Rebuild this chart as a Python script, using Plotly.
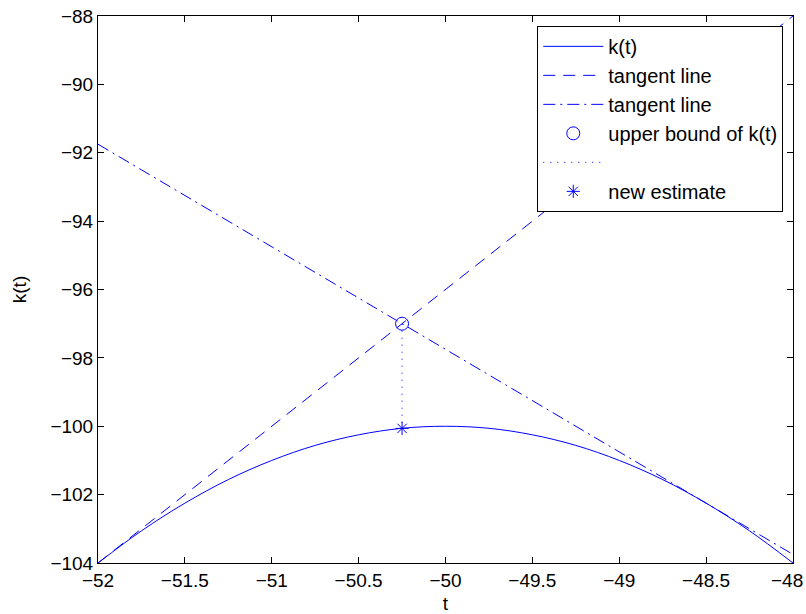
import plotly.graph_objects as go

# k(t) curve
t_curve = [-52.0, -51.75, -51.5, -51.25, -51.0, -50.75, -50.5, -50.25, -50.0,
           -49.75, -49.5, -49.25, -49.0, -48.75, -48.5, -48.25, -48.0]
k_curve = [-104.0, -103.06, -102.25, -101.56, -101.0, -100.56, -100.25, -100.06, -100.0,
           -100.06, -100.25, -100.56, -101.0, -101.56, -102.25, -103.06, -104.0]

# tangent lines (endpoints at plot edges)
t_tan1 = [-52.0, -48.0]
k_tan1 = [-104.0, -88.0]
t_tan2 = [-52.0, -48.0]
k_tan2 = [-91.75, -103.75]

# upper bound point and new estimate
t_upper = [-50.25]
k_upper = [-97.0]
t_vert = [-50.25, -50.25]
k_vert = [-97.0, -100.0625]
t_est = [-50.25]
k_est = [-100.0625]

# tick labels (the last x label is drawn separately, nudged left so it fits)
x_ticks = [-52, -51.5, -51, -50.5, -50, -49.5, -49, -48.5, -48]
x_tick_text = ["\u221252", "\u221251.5", "\u221251", "\u221250.5", "\u221250",
               "\u221249.5", "\u221249", "\u221248.5", "\u221248"]
y_ticks = [-104, -102, -100, -98, -96, -94, -92, -90, -88]
y_tick_text = ["\u2212104", "\u2212102", "\u2212100", "\u221298", "\u221296",
               "\u221294", "\u221292", "\u221290", "\u221288"]

blue = "#0000ff"
font = "Liberation Sans, Arial, Helvetica, sans-serif"

fig = go.Figure()
fig.add_trace(go.Scatter(x=t_curve, y=k_curve, mode="lines", name="k(t)",
                         line=dict(color=blue, width=1, shape="spline")))
fig.add_trace(go.Scatter(x=t_tan1, y=k_tan1, mode="lines", name="tangent line",
                         line=dict(color=blue, width=1, dash="12px,8px")))
fig.add_trace(go.Scatter(x=t_tan2, y=k_tan2, mode="lines", name="tangent line",
                         line=dict(color=blue, width=1, dash="12px,5px,2px,5px")))
fig.add_trace(go.Scatter(x=t_upper, y=k_upper, mode="markers", name="upper bound of k(t)",
                         marker=dict(symbol="circle-open", size=13, color=blue,
                                     line=dict(width=1, color=blue))))
fig.add_trace(go.Scatter(x=t_vert, y=k_vert, mode="lines", name=" ",
                         line=dict(color=blue, width=1, dash="1px,6px")))
fig.add_trace(go.Scatter(x=t_est, y=k_est, mode="markers", name="new estimate",
                         marker=dict(symbol="asterisk-open", size=11, color=blue,
                                     line=dict(width=1, color=blue))))

axis_common = dict(showgrid=False, zeroline=False, showline=True, linecolor="black",
                   linewidth=1, mirror="ticks", ticks="inside", ticklen=6,
                   tickcolor="black", automargin=False,
                   tickfont=dict(family=font, size=19, color="black"))

shown_x_text = x_tick_text[:-1] + [""]

fig.update_layout(
    width=806, height=614,
    margin=dict(l=98, r=13, t=16, b=51),
    paper_bgcolor="white", plot_bgcolor="white",
    font=dict(family=font, size=19, color="black"),
    hovermode=False,
    xaxis=dict(range=[-52, -48], tickmode="array", tickvals=x_ticks, ticktext=shown_x_text,
               title=dict(text="t", font=dict(size=19), standoff=12), **axis_common),
    yaxis=dict(range=[-104, -88], tickmode="array", tickvals=y_ticks, ticktext=y_tick_text,
               title=dict(text="k(t)", font=dict(size=19), standoff=18), **axis_common),
    legend=dict(x=0.986, y=0.982, xanchor="right", yanchor="top",
                bgcolor="white", bordercolor="black", borderwidth=1,
                font=dict(family=font, size=20, color="black"),
                tracegroupgap=0, itemwidth=60),
    showlegend=True,
)

# last x tick label, kept inside the page like the original
fig.add_annotation(x=x_ticks[-1], y=0, xref="x", yref="paper", text=x_tick_text[-1],
                   showarrow=False, xanchor="right", yanchor="middle",
                   xshift=12, yshift=-17, font=dict(family=font, size=19, color="black"))

fig.write_html("out.html", config={"displayModeBar": False, "staticPlot": True},
               post_script="document.body.style.margin='0px';document.body.style.overflow='hidden';")
